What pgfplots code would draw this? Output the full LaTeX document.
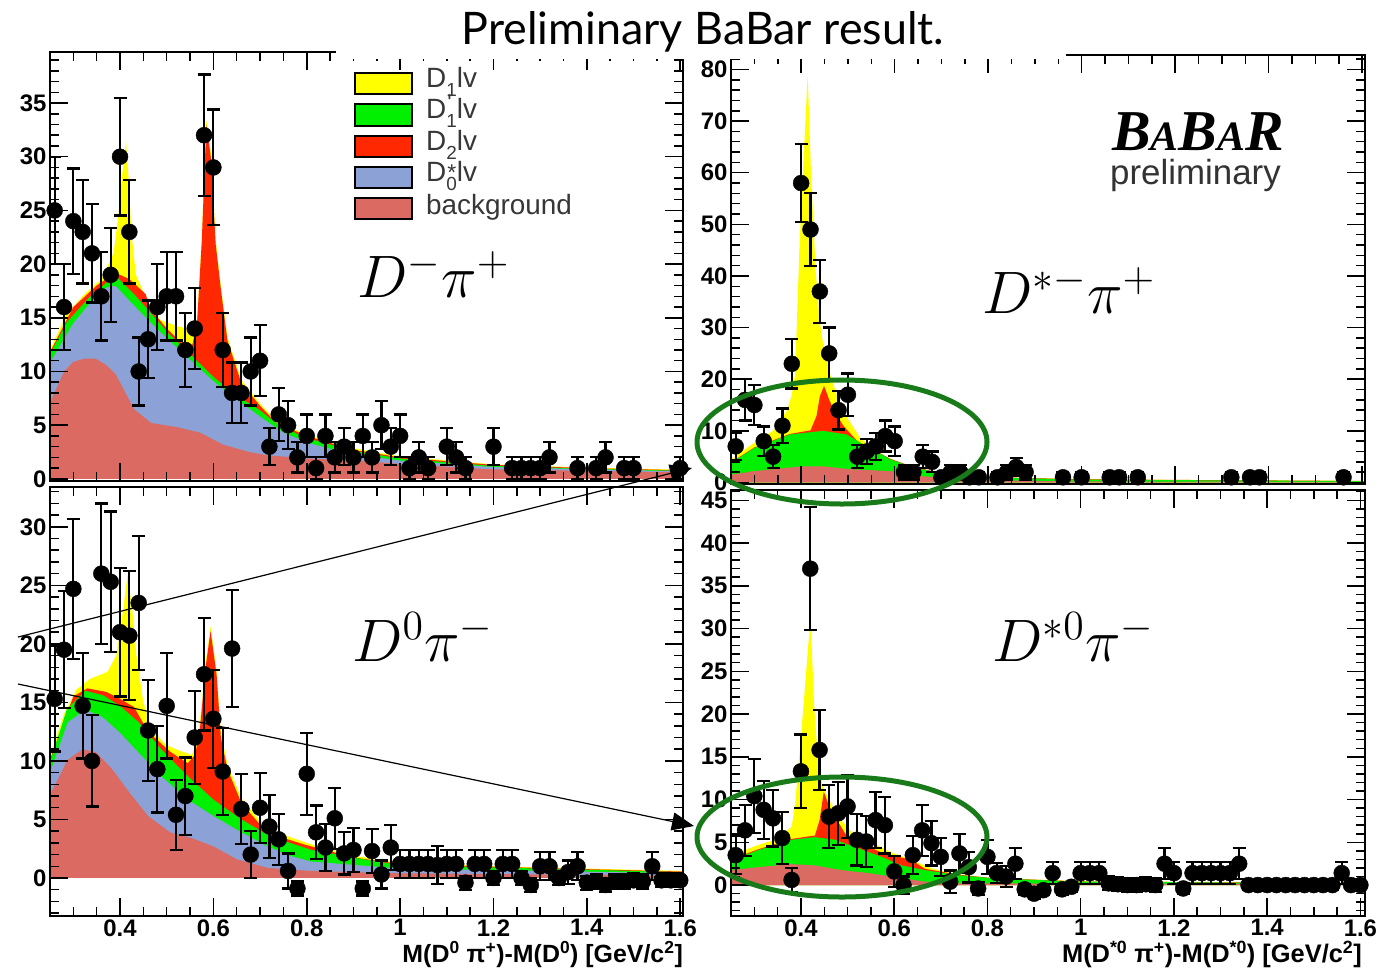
\documentclass[border=0pt]{standalone}
\usepackage{graphicx}
\usepackage{pgfplots}
\pgfplotsset{compat=1.18}
\usepackage{fontspec}
\usetikzlibrary{arrows.meta}
\newfontfamily\rootsans{Liberation Sans}
\newfontfamily\titlefont{Lato}
\newfontfamily\logoserif{Liberation Serif}

\definecolor{cDone}{RGB}{255,255,0}
\definecolor{cDonep}{RGB}{0,240,0}
\definecolor{cDtwo}{RGB}{255,40,0}
\definecolor{cDzero}{RGB}{140,162,214}
\definecolor{cBkg}{RGB}{218,106,98}
\definecolor{ringgreen}{RGB}{24,122,24}
\definecolor{legtext}{RGB}{55,55,55}

\pgfplotsset{
  histo/.style={
    scale only axis, axis on top,
    xmin=0.25, xmax=1.606,
    xtick={0.4,0.6,0.8,1,1.2,1.4,1.6},
    xticklabels={0.4,0.6,0.8,1,1.2,1.4,1.6},
    minor xtick={0.25,0.30,...,1.60},
    tick align=inside,
    major tick length=18bp, minor tick length=9bp,
    every tick/.style={black, line width=1.5bp},
    axis line style={line width=2bp},
    tick label style={font=\rootsans\bfseries\fontsize{24}{24}\selectfont},
    /pgf/number format/assume math mode=true,
  },
  comp/.style={draw=none, fill=#1},
  data/.style={only marks, mark=*, mark size=8bp, black, mark options={fill=black},
    error bars/.cd, y dir=both, y explicit,
    error bar style={line width=2.2bp},
    error mark options={rotate=90, line width=2.2bp, mark size=6.5bp}},
}
% legend label: D, a raised mark (#2 raise, #1 glyph), a lowered index #3, then "lv"
\newcommand{\lgsub}[3]{D\rlap{\raisebox{#2}{\fontsize{23}{23}\selectfont\kern1bp #1}}\raisebox{-9bp}{\fontsize{19}{19}\selectfont #3}lv}
\newcommand{\chan}[1]{\scalebox{2.9}{\fontsize{20}{20}\selectfont $#1$}}

\begin{document}
\begin{tikzpicture}[x=1bp,y=1bp]
\useasboundingbox (0,0) rectangle (1393,-970);

% ---------------- D- pi+ ----------------
\begin{axis}[histo, at={(50bp,-481bp)}, anchor=south west,
  width=633bp, height=429bp, ymin=-0.2, ymax=39.75,
  ytick={0,5,...,35}, minor ytick={0,1,...,39}, xticklabels={}]
\addplot[comp=cDone] table {
x y
0.25 12.0
0.286 15.4
0.324 17.2
0.36 18.6
0.386 21.0
0.395 24.0
0.405 28.5
0.413 31.4
0.42 27.0
0.424 23.0
0.434 19.0
0.458 16.6
0.486 14.8
0.524 14.2
0.553 13.9
0.565 14.8
0.575 22.2
0.585 33.4
0.595 30.2
0.605 22.2
0.615 18.3
0.63 13.2
0.66 9.2
0.70 7.0
0.735 5.4
0.80 4.1
0.90 2.85
1.00 2.1
1.20 1.35
1.40 1.05
1.606 0.85
} \closedcycle;
\addplot[comp=cDtwo] table {
x y
0.25 11.8
0.30 16.0
0.35 18.0
0.36 18.3
0.39 19.2
0.42 18.6
0.44 17.8
0.455 17.2
0.465 15.8
0.50 14.0
0.54 12.3
0.555 12.5
0.565 14.5
0.575 22.0
0.585 33.0
0.595 29.8
0.605 21.8
0.615 18.0
0.63 12.9
0.66 8.9
0.70 6.8
0.735 5.2
0.80 4.0
0.90 2.7
1.00 2.0
1.20 1.3
1.40 1.0
1.606 0.8
} \closedcycle;
\addplot[comp=cDonep] table {
x y
0.25 11.6
0.286 14.6
0.334 16.9
0.38 18.6
0.393 18.8
0.43 17.2
0.467 15.4
0.505 13.5
0.553 11.5
0.60 9.5
0.648 7.8
0.696 6.5
0.743 4.9
0.80 3.8
0.90 2.6
1.00 1.9
1.20 1.2
1.40 0.95
1.606 0.75
} \closedcycle;
\addplot[comp=cDzero] table {
x y
0.25 10.8
0.30 14.5
0.34 16.6
0.37 17.8
0.39 18.0
0.42 16.6
0.46 14.8
0.50 13.1
0.55 11.1
0.60 9.1
0.65 7.4
0.70 5.8
0.75 4.3
0.80 3.4
0.85 2.8
0.90 2.3
1.00 1.7
1.20 1.1
1.40 0.9
1.606 0.7
} \closedcycle;
\addplot[comp=cBkg] table {
x y
0.25 7.1
0.28 10.0
0.30 10.9
0.324 11.2
0.348 11.2
0.37 10.6
0.39 9.8
0.43 6.5
0.467 5.2
0.524 4.8
0.572 4.3
0.62 3.2
0.677 2.5
0.715 2.2
0.80 1.9
0.905 1.7
1.00 1.4
1.19 0.9
1.40 0.75
1.606 0.6
} \closedcycle;
\addplot[data] table[x=x, y=y, y error=e] {
x y e
0.26 25 5.00
0.28 16 4.00
0.30 24 4.90
0.32 23 4.80
0.34 21 4.58
0.36 17 4.12
0.38 19 4.36
0.40 30 5.48
0.42 23 4.80
0.44 10 3.16
0.46 13 3.61
0.48 16 4.00
0.50 17 4.12
0.52 17 4.12
0.54 12 3.46
0.56 14 3.74
0.58 32 5.66
0.60 29 5.39
0.62 12 3.46
0.64 8 2.83
0.66 8 2.83
0.68 10 3.16
0.70 11 3.32
0.72 3 1.73
0.74 6 2.45
0.76 5 2.24
0.78 2 1.41
0.80 4 2.00
0.82 1 1.00
0.84 4 2.00
0.86 2 1.41
0.88 3 1.73
0.90 2 1.41
0.92 4 2.00
0.94 2 1.41
0.96 5 2.24
0.98 3 1.73
1.00 4 2.00
1.02 1 1.00
1.04 2 1.41
1.06 1 1.00
1.10 3 1.73
1.12 2 1.41
1.14 1 1.00
1.20 3 1.73
1.24 1 1.00
1.26 1 1.00
1.28 1 1.00
1.30 1 1.00
1.32 2 1.41
1.38 1 1.00
1.42 1 1.00
1.44 2 1.41
1.48 1 1.00
1.50 1 1.00
1.60 1 1.00
};
\end{axis}

% ---------------- D*- pi+ ----------------
\begin{axis}[histo, at={(731bp,-484bp)}, anchor=south west,
  width=634bp, height=429bp, ymin=-0.3, ymax=82.8,
  ytick={0,10,...,80}, minor ytick={0,2,...,82}, xticklabels={}]
\addplot[comp=cDone] table {
x y
0.25 4.5
0.30 7.7
0.34 10.0
0.37 14.0
0.38 17.0
0.387 21.0
0.397 47.0
0.407 66.0
0.414 79.0
0.421 60.0
0.431 41.0
0.44 31.0
0.45 25.0
0.465 20.0
0.48 16.0
0.50 12.3
0.528 8.4
0.54 7.7
0.577 5.2
0.625 3.2
0.674 2.0
0.75 1.3
0.90 0.8
1.20 0.5
1.61 0.3
} \closedcycle;
\addplot[comp=cDtwo] table {
x y
0.25 3.9
0.30 6.8
0.376 9.4
0.42 10.1
0.433 12.9
0.44 16.7
0.449 18.7
0.46 16.0
0.47 14.0
0.49 11.0
0.52 8.0
0.54 7.1
0.59 4.6
0.63 3.3
0.676 2.3
0.80 1.05
1.00 0.6
1.61 0.28
} \closedcycle;
\addplot[comp=cDonep] table {
x y
0.25 3.8
0.30 6.7
0.376 9.3
0.447 10.0
0.497 9.3
0.54 7.0
0.59 4.5
0.63 3.2
0.676 2.2
0.80 1.0
1.00 0.55
1.61 0.25
} \closedcycle;
\addplot[comp=cBkg] table {
x y
0.25 1.5
0.30 2.2
0.40 3.1
0.45 3.1
0.50 2.6
0.59 2.2
0.66 1.2
0.80 0.4
1.00 0.2
1.61 0.1
} \closedcycle;
\addplot[data] table[x=x, y=y, y error=e] {
x y e
0.26 7 2.65
0.28 16 4.00
0.30 15 3.87
0.32 8 2.83
0.34 5 2.24
0.36 11 3.32
0.38 23 4.80
0.40 58 7.62
0.42 49 7.00
0.44 37 6.08
0.46 25 5.00
0.48 14 3.74
0.50 17 4.12
0.52 5 2.24
0.54 6 2.45
0.56 7 2.65
0.58 9 3.00
0.60 8 2.83
0.62 2 1.41
0.64 2 1.41
0.66 5 2.24
0.68 4 2.00
0.70 1 1.00
0.72 2 1.41
0.74 2 1.41
0.76 1 1.00
0.78 1 1.00
0.82 1 1.00
0.84 2 1.41
0.86 3 1.73
0.88 2 1.41
0.96 1 1.00
1.00 1 1.00
1.06 1 1.00
1.08 1 1.00
1.12 1 1.00
1.32 1 1.00
1.36 1 1.00
1.38 1 1.00
1.56 1 1.00
};
\end{axis}

% ---------------- D0 pi- ----------------
\begin{axis}[histo, at={(50bp,-916bp)}, anchor=south west,
  width=633bp, height=429bp, ymin=-3.25, ymax=33.4,
  ytick={0,5,...,30}, minor ytick={-3,-2,...,33}]
\addplot[comp=cDone] table {
x y
0.25 10.4
0.28 14.0
0.307 16.1
0.335 17.0
0.373 17.6
0.392 19.0
0.407 23.0
0.416 25.9
0.426 23.0
0.435 19.0
0.45 15.0
0.469 12.6
0.497 11.4
0.526 10.9
0.554 10.5
0.569 12.4
0.583 18.3
0.594 21.5
0.607 17.6
0.616 12.4
0.63 9.7
0.66 6.8
0.697 5.0
0.735 3.9
0.80 3.0
0.90 1.9
1.00 1.3
1.30 0.9
1.606 0.6
} \closedcycle;
\addplot[comp=cDtwo] table {
x y
0.25 10.1
0.30 15.5
0.33 16.2
0.37 15.9
0.40 15.3
0.43 14.6
0.46 12.5
0.507 10.8
0.545 9.8
0.56 10.5
0.57 12.2
0.583 17.9
0.594 21.1
0.607 17.3
0.616 12.0
0.63 9.3
0.66 6.4
0.697 4.7
0.735 3.6
0.80 2.8
0.90 1.75
1.00 1.2
1.30 0.85
1.606 0.55
} \closedcycle;
\addplot[comp=cDonep] table {
x y
0.25 9.9
0.286 14.4
0.326 16.0
0.364 15.6
0.40 14.7
0.44 13.3
0.488 11.0
0.545 8.7
0.60 6.7
0.66 5.0
0.716 3.7
0.764 3.0
0.81 2.4
0.907 1.7
1.00 1.1
1.606 0.5
} \closedcycle;
\addplot[comp=cDzero] table {
x y
0.25 9.0
0.288 13.3
0.326 14.4
0.364 13.7
0.40 12.4
0.44 10.7
0.488 8.7
0.545 6.7
0.60 5.3
0.66 3.9
0.716 2.7
0.764 1.9
0.81 1.4
0.907 1.1
1.00 0.8
1.606 0.4
} \closedcycle;
\addplot[comp=cBkg] table {
x y
0.25 7.1
0.288 10.1
0.32 11.0
0.35 10.7
0.383 9.3
0.42 7.3
0.46 5.3
0.507 3.9
0.554 3.4
0.60 2.7
0.65 1.6
0.716 0.86
0.81 0.6
1.00 0.4
1.606 0.2
} \closedcycle;
\addplot[data] table[x=x, y=y, y error=e] {
x y e
0.26 15.3 4.5
0.28 19.5 5.0
0.30 24.7 6.0
0.32 14.7 4.5
0.34 10.0 3.9
0.36 26.0 6.0
0.38 25.3 6.0
0.40 21.0 5.5
0.42 20.7 5.5
0.44 23.5 5.7
0.46 12.6 4.3
0.48 9.3 3.7
0.50 14.7 4.5
0.52 5.4 3.0
0.54 7.0 3.3
0.56 12.0 4.0
0.58 17.4 4.8
0.60 13.6 4.2
0.62 9.1 3.7
0.64 19.6 5.0
0.66 5.9 3.0
0.68 2.0 2.0
0.70 6.0 3.0
0.72 4.4 2.7
0.74 3.3 2.2
0.76 0.6 1.5
0.78 -0.9 0.6
0.80 8.9 3.5
0.82 3.9 2.3
0.84 2.6 2.0
0.86 5.1 2.6
0.88 2.1 1.8
0.90 2.4 1.9
0.92 -0.9 0.6
0.94 2.3 1.9
0.96 0.3 1.2
0.98 2.6 1.9
1.00 1.2 1.2
1.02 1.2 1.2
1.04 1.2 1.2
1.06 1.2 1.2
1.08 1.1 1.6
1.10 1.2 1.2
1.12 1.2 1.2
1.14 -0.4 0.6
1.16 1.2 1.2
1.18 1.2 1.2
1.20 0.0 0.6
1.22 1.2 1.2
1.24 1.2 1.2
1.26 0.0 0.6
1.28 -0.6 0.6
1.30 1.0 1.2
1.32 1.0 1.2
1.34 0.0 0.6
1.36 0.5 1.0
1.38 1.0 1.2
1.40 -0.4 0.6
1.42 -0.3 0.6
1.44 -0.6 0.6
1.46 -0.3 0.6
1.48 -0.3 0.6
1.50 -0.2 0.6
1.52 -0.3 0.6
1.54 1.0 1.2
1.56 -0.2 0.6
1.58 -0.2 0.6
1.60 -0.2 0.6
};
\end{axis}

% ---------------- D*0 pi- ----------------
\begin{axis}[histo, at={(731bp,-916bp)}, anchor=south west,
  width=634bp, height=426bp, ymin=-3.62, ymax=46.2, xmax=1.61,
  ytick={0,5,...,45}, minor ytick={-3,-2,...,46}]
\addplot[comp=cDone] table {
x y
0.25 3.5
0.309 4.7
0.344 5.3
0.38 6.8
0.387 9.2
0.397 15.4
0.407 22.0
0.416 28.3
0.421 30.7
0.428 21.3
0.436 15.0
0.446 11.6
0.46 10.0
0.48 8.0
0.509 6.2
0.547 5.2
0.586 4.0
0.625 3.2
0.683 1.9
0.74 1.25
0.80 0.85
1.00 0.45
1.61 0.25
} \closedcycle;
\addplot[comp=cDtwo] table {
x y
0.25 3.0
0.309 4.2
0.38 5.4
0.43 5.8
0.44 7.6
0.449 10.9
0.46 9.3
0.473 8.0
0.495 6.0
0.523 5.0
0.573 3.8
0.61 3.3
0.638 2.9
0.666 1.9
0.74 1.2
0.81 0.82
1.00 0.42
1.61 0.22
} \closedcycle;
\addplot[comp=cDonep] table {
x y
0.25 2.9
0.309 4.1
0.38 5.3
0.43 5.6
0.473 5.3
0.523 4.3
0.573 3.3
0.616 2.3
0.666 1.75
0.738 1.15
0.81 0.8
1.00 0.4
1.61 0.2
} \closedcycle;
\addplot[comp=cBkg] table {
x y
0.25 1.75
0.309 2.1
0.38 2.45
0.43 2.3
0.487 1.75
0.545 1.4
0.595 1.0
0.666 0.4
0.738 0.2
1.61 0.1
} \closedcycle;
\addplot[data] table[x=x, y=y, y error=e] {
x y e
0.26 3.5 2.2
0.28 6.4 3.0
0.30 10.4 4.3
0.32 8.8 3.4
0.34 7.8 3.3
0.36 5.5 3.0
0.38 0.6 1.4
0.40 13.3 4.3
0.42 37.0 7.2
0.44 15.8 4.7
0.46 8.0 3.7
0.48 8.4 3.7
0.50 9.2 3.7
0.52 5.3 3.0
0.54 5.1 3.0
0.56 7.6 3.3
0.58 7.0 3.3
0.60 1.6 1.8
0.62 0.0 1.0
0.64 3.5 2.2
0.66 6.4 3.0
0.68 4.9 2.6
0.70 3.3 2.2
0.72 0.4 1.3
0.74 3.7 2.3
0.76 2.1 1.8
0.78 -0.4 0.8
0.80 3.3 2.0
0.82 1.4 1.2
0.84 1.0 1.2
0.86 2.5 1.8
0.88 -0.5 0.6
0.90 -1.0 0.6
0.92 -0.6 0.6
0.94 1.4 1.3
0.96 -0.5 0.6
0.98 -0.2 0.6
1.00 1.4 1.3
1.02 1.4 1.3
1.04 1.4 1.3
1.06 0.2 0.8
1.08 0.1 0.8
1.10 0.0 0.8
1.12 0.0 0.8
1.14 0.1 0.8
1.16 0.0 0.8
1.18 2.5 1.8
1.20 1.4 1.3
1.22 -0.4 0.6
1.24 1.4 1.3
1.26 1.4 1.3
1.28 1.4 1.3
1.30 1.4 1.3
1.32 1.4 1.3
1.34 2.5 1.8
1.36 0.0 0.6
1.38 0.0 0.6
1.40 0.0 0.6
1.42 0.0 0.6
1.44 0.0 0.6
1.46 0.0 0.6
1.48 0.0 0.6
1.50 0.0 0.6
1.52 0.0 0.6
1.54 0.0 0.6
1.56 1.4 1.3
1.58 0.0 0.6
1.60 0.0 0.6
};
\end{axis}

% axis titles
\node[anchor=base east, inner sep=0pt, font=\rootsans\bfseries\fontsize{25}{25}\selectfont]
  at (683,-962) {M(D\textsuperscript{0} π\textsuperscript{+})-M(D\textsuperscript{0}) [GeV/c\textsuperscript{2}]};
\node[anchor=base east, inner sep=0pt, font=\rootsans\bfseries\fontsize{25.5}{25.5}\selectfont]
  at (1362,-962) {M(D\textsuperscript{*0} π\textsuperscript{+})-M(D\textsuperscript{*0}) [GeV/c\textsuperscript{2}]};

% channel labels
\node[anchor=base west, inner sep=0pt] at (357,-297) {\chan{D^-\pi^+}};
\node[anchor=base west, inner sep=0pt] at (982,-313) {\chan{D^{*-}\pi^+}};
\node[anchor=base west, inner sep=0pt] at (352,-661) {\chan{D^0\pi^-}};
\node[anchor=base west, inner sep=0pt] at (992,-661) {\chan{D^{*0}\pi^-}};

% experiment logo
\node[anchor=base west, inner sep=0pt] at (1112,-150)
  {\logoserif\bfseries\itshape\fontsize{58}{58}\selectfont B{\fontsize{42}{42}\selectfont A}B{\fontsize{42}{42}\selectfont A}R};
\node[anchor=base west, inner sep=0pt, text=black!80] at (1110,-184)
  {\rootsans\fontsize{35}{35}\selectfont preliminary};

% legend
\begin{scope}[line width=1.5bp]
  \filldraw[fill=cDone]  (355,-73)  rectangle (412,-94);
  \filldraw[fill=cDonep] (355,-104) rectangle (412,-126);
  \filldraw[fill=cDtwo]  (355,-136) rectangle (412,-157);
  \filldraw[fill=cDzero] (355,-167) rectangle (412,-188);
  \filldraw[fill=cBkg]   (355,-198) rectangle (412,-219);
\end{scope}
\begin{scope}[every node/.style={anchor=base west, inner sep=0pt, text=legtext,
    font=\rootsans\fontsize{28}{28}\selectfont}]
  \node at (426,-87)  {\lgsub{}{0bp}{1}};
  \node at (426,-118) {\lgsub{'}{8bp}{1}};
  \node at (426,-150) {\lgsub{}{0bp}{2}};
  \node at (426,-181) {\lgsub{*}{1bp}{0}};
  \node at (426,-214) {background};
\end{scope}

% highlight rings and pointers
\draw[ringgreen, line width=5bp] (842,-442) ellipse [x radius=145, y radius=62];
\draw[ringgreen, line width=5bp] (842,-837) ellipse [x radius=145, y radius=60];
\draw[line width=1.2bp, -{Triangle[length=22bp, width=18bp]}] (18,-637) -- (692,-468);
\draw[line width=1.2bp, -{Triangle[length=22bp, width=18bp]}] (18,-684) -- (694,-826);

% title banner
\fill[white] (336,0) rectangle (1066,-59);
\node[anchor=base, inner sep=0pt] at (703,-44)
  {\titlefont\fontsize{45}{45}\selectfont Preliminary BaBar result.};
\end{tikzpicture}
\end{document}
